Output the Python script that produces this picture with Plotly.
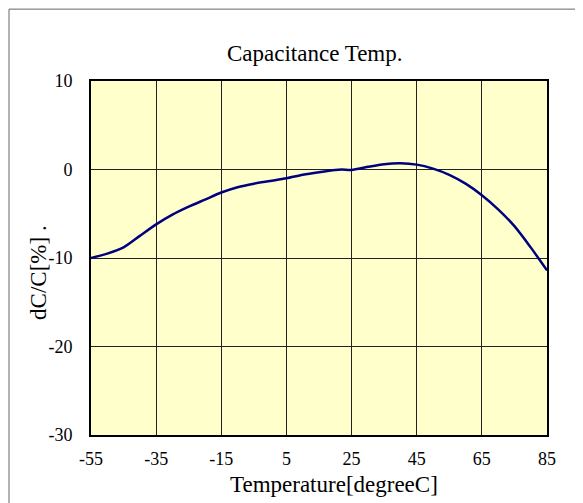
import plotly.graph_objects as go

# Data
temperature = [-55, -50, -45, -40, -35, -30, -25, -20, -15, -10, -5, 0, 5, 10, 15,
               20, 22, 25, 30, 35, 40, 45, 50, 55, 60, 65, 70, 75, 80, 85]
dc_c = [-10.0, -9.5, -8.8, -7.5, -6.2, -5.1, -4.2, -3.4, -2.6, -2.0, -1.6, -1.3, -1.0, -0.6, -0.3,
        -0.05, 0.0, -0.05, 0.3, 0.6, 0.7, 0.55, 0.1, -0.6, -1.6, -2.9, -4.5, -6.4, -8.8, -11.4]

x_ticks = [-55, -35, -15, 5, 25, 45, 65, 85]
y_ticks = [-30, -20, -10, 0, 10]

title_text = "Capacitance Temp."
x_title = "Temperature[degreeC]"
y_title = "dC/C[%] ."

FONT = "Liberation Serif, Times New Roman, serif"

fig = go.Figure()
fig.add_trace(go.Scatter(
    x=temperature, y=dc_c, mode="lines",
    line=dict(color="#000080", width=2.5, shape="spline", smoothing=0.8),
    hoverinfo="x+y", showlegend=False,
))

# the page body adds an 8px margin, so the figure is 8px smaller than the window
fig.update_layout(
    width=575, height=495,
    margin=dict(l=83, r=36, t=73, b=68),
    paper_bgcolor="white",
    plot_bgcolor="#FFFFCC",
    font=dict(family=FONT, color="black", size=18),
    showlegend=False,
)

fig.update_xaxes(
    range=[-55, 85], tickvals=x_ticks, ticktext=[str(v) for v in x_ticks],
    showgrid=True, gridcolor="#222222", gridwidth=1,
    showline=True, linecolor="black", linewidth=2, mirror=True,
    zeroline=False, ticks="", ticklabelstandoff=6,
    tickfont=dict(family=FONT, size=18, color="black"),
)
fig.update_yaxes(
    range=[-30, 10], tickvals=y_ticks, ticktext=[str(v) for v in y_ticks],
    showgrid=True, gridcolor="#222222", gridwidth=1,
    showline=True, linecolor="black", linewidth=2, mirror=True,
    zeroline=False, ticks="", ticklabelstandoff=13,
    tickfont=dict(family=FONT, size=18, color="black"),
)

# outer frame
fig.add_shape(type="rect", xref="paper", yref="paper",
              x0=-0.1798, y0=-1, x1=2, y1=1.203,
              line=dict(color="#666666", width=1), layer="below")

fig.add_annotation(text=title_text, xref="paper", yref="paper", x=0.491, y=1.079,
                   xanchor="center", yanchor="middle", showarrow=False,
                   font=dict(family=FONT, size=23, color="black"))
fig.add_annotation(text=x_title, xref="paper", yref="paper", x=0.533, y=-0.141,
                   xanchor="center", yanchor="middle", showarrow=False,
                   font=dict(family=FONT, size=23, color="black"))
fig.add_annotation(text=y_title, xref="paper", yref="paper", x=-0.114, y=0.458,
                   xanchor="center", yanchor="middle", showarrow=False, textangle=-90,
                   font=dict(family=FONT, size=23, color="black"))

fig.write_html("out.html")
